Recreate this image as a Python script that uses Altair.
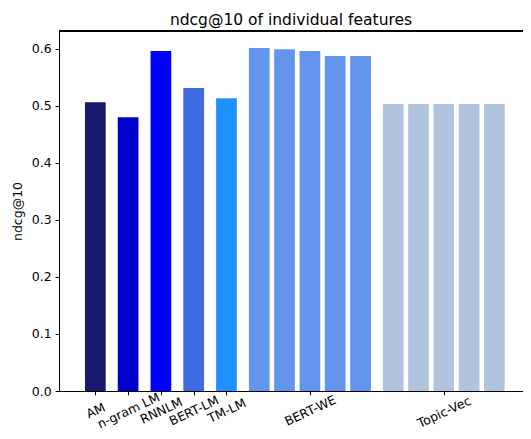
import altair as alt
import pandas as pd

# data
features = ["AM", "n-gram LM", "RNNLM", "BERT-LM", "TM-LM",
            "BERT-WE", "BERT-WE", "BERT-WE", "BERT-WE", "BERT-WE",
            "Topic-Vec", "Topic-Vec", "Topic-Vec", "Topic-Vec", "Topic-Vec"]
positions = [0, 1, 2, 3, 4,
             5.0, 5.77, 6.545, 7.315, 8.09,
             9.085, 9.857, 10.627, 11.40, 12.17]
ndcg = [0.506, 0.480, 0.596, 0.531, 0.513,
        0.601, 0.599, 0.596, 0.587, 0.587,
        0.503, 0.503, 0.503, 0.503, 0.503]

group_names = ["AM", "n-gram LM", "RNNLM", "BERT-LM", "TM-LM", "BERT-WE", "Topic-Vec"]
group_colors = ["#191970", "#0000CD", "#0000FF", "#4169E1", "#1E90FF", "#6495ED", "#B0C4DE"]
tick_positions = [0, 1, 2, 3, 4, 6.545, 10.627]
y_ticks = [0.0, 0.1, 0.2, 0.3, 0.4, 0.5, 0.6]

df = pd.DataFrame({"feature": features, "pos": positions, "ndcg": ndcg})

W, H = 464, 360
FONT = "DejaVu Sans"

parts = []
for p, n in zip(tick_positions, group_names):
    parts.append(f"abs(datum.value - {p}) < 0.01 ? '{n}'")
label_expr = " : ".join(parts) + " : ''"

bars = alt.Chart(df).mark_bar(width=20.7).encode(
    x=alt.X("pos:Q",
            scale=alt.Scale(domain=[-0.955, 12.891], nice=False, zero=False),
            axis=alt.Axis(values=tick_positions, labelExpr=label_expr, title=None,
                          grid=False, labelAngle=-25, labelAlign="center",
                          labelBaseline="middle",
                          labelPadding=alt.ExprRef("14 + 1.45*length(datum.label)"),
                          labelFont=FONT, labelFontSize=12.5, labelColor="black",
                          tickSize=3.9, tickColor="black", domainColor="black",
                          labelOverlap=False, labelBound=False)),
    y=alt.Y("ndcg:Q",
            scale=alt.Scale(domain=[0, 0.631], nice=False),
            axis=alt.Axis(values=y_ticks, format=".1f", title="ndcg@10", grid=False,
                          labelFont=FONT, labelFontSize=12.5, labelColor="black",
                          labelPadding=3.9, tickSize=3.9, tickColor="black",
                          domainColor="black", titleFont=FONT, titleFontSize=12.5,
                          titleFontWeight="normal", titleColor="black",
                          titleAngle=270, titleX=-41.5, titleY=H / 2,
                          titleAlign="center", titleBaseline="middle")),
    color=alt.Color("feature:N", scale=alt.Scale(domain=group_names, range=group_colors),
                    legend=None),
)

top_spine = alt.Chart(df).mark_rule(color="black", strokeWidth=1).encode(
    x=alt.value(0), x2=alt.value(W), y=alt.value(0)
)

chart = alt.layer(bars, top_spine).properties(
    width=W, height=H,
    title=alt.TitleParams("ndcg@10 of individual features", font=FONT, fontSize=15.5,
                          fontWeight="normal", color="black", anchor="middle",
                          baseline="alphabetic", offset=7, dy=17),
    autosize=alt.AutoSizeParams(type="none"),
    padding={"left": 51, "top": 23, "right": 0, "bottom": 40},
).configure_view(stroke=None)

chart.save("out.html", embed_options={"renderer": "svg", "actions": False})
